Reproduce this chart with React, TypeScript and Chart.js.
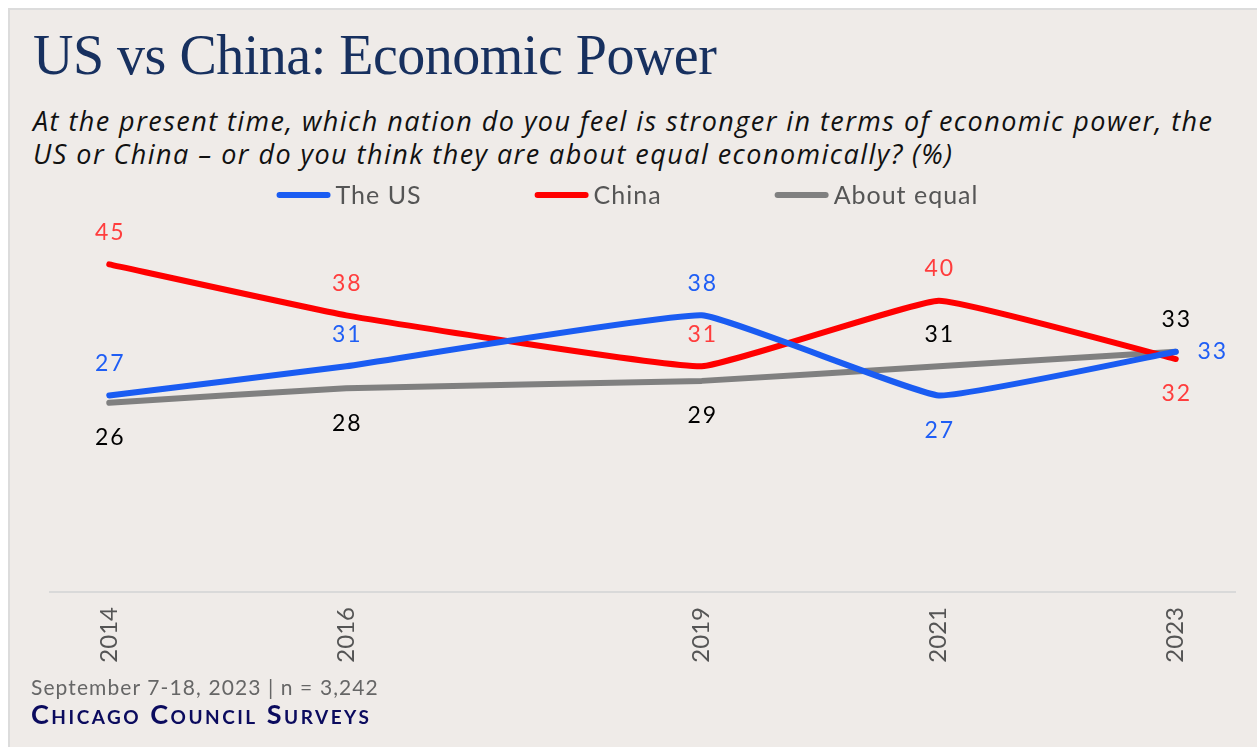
import { useEffect, useRef } from "react";
import { Chart, registerables } from "chart.js";

Chart.register(...registerables);

const years = [2014, 2016, 2019, 2021, 2023];
const usValues = [27, 31, 38, 27, 33];
const chinaValues = [45, 38, 31, 40, 32];
const equalValues = [26, 28, 29, 31, 33];
const seriesNames = ["The US", "China", "About equal"];
const usLabelSides = ["above", "above", "above", "below", "right"];
const chinaLabelSides = ["above", "above", "above", "above", "below"];
const equalLabelSides = ["below", "below", "below", "above", "above"];

const TITLE = "US vs China: Economic Power";
const SUBTITLE_1 =
  "At the present time, which nation do you feel is stronger in terms of economic power, the";
const SUBTITLE_2 = "US or China \u2013 or do you think they are about equal economically? (%)";
const SOURCE = "September 7-18, 2023 | n = 3,242";
const BRAND = "Chicago Council Surveys";

const SANS = "Lato, 'Noto Sans', sans-serif";

const labelSides = [usLabelSides, chinaLabelSides, equalLabelSides];
const labelColors = ["#1f5ef5", "#ff3d3d", "#000000"];

const dataLabelPlugin = {
  id: "dataLabels",
  afterDatasetsDraw(chart: any) {
    const ctx = chart.ctx;
    ctx.save();
    ctx.font = `23px ${SANS}`;
    (ctx as any).letterSpacing = "2px";
    ctx.textBaseline = "middle";
    chart.data.datasets.forEach((ds: any, di: number) => {
      const meta = chart.getDatasetMeta(di);
      meta.data.forEach((pt: any, i: number) => {
        const side = labelSides[di][i];
        const v = ds.data[i].y;
        let x = pt.x + 1;
        let y = pt.y;
        ctx.textAlign = "center";
        if (side === "above") y -= 32;
        else if (side === "below") y += 35;
        else {
          x += 36;
        }
        ctx.fillStyle = labelColors[di];
        ctx.fillText(String(v), x, y);
      });
    });
    ctx.restore();
  },
};

const legendPlugin = {
  id: "customLegend",
  afterDraw(chart: any) {
    const ctx = chart.ctx;
    ctx.save();
    ctx.font = `25px ${SANS}`;
    (ctx as any).letterSpacing = "1px";
    ctx.textBaseline = "middle";
    const lineW = 54;
    const textGap = 5;
    const itemGap = 113;
    const widths = chart.data.datasets.map(
      (ds: any) => lineW + textGap + ctx.measureText(ds.label).width
    );
    const total = widths.reduce((a: number, b: number) => a + b, 0) + itemGap * (widths.length - 1);
    let x = 619.5 - total / 2;
    const y = 25;
    chart.data.datasets.forEach((ds: any, i: number) => {
      ctx.strokeStyle = ds.borderColor;
      ctx.lineWidth = 6;
      ctx.lineCap = "round";
      ctx.beginPath();
      ctx.moveTo(x + 3, y);
      ctx.lineTo(x + lineW - 3, y);
      ctx.stroke();
      ctx.fillStyle = "#555555";
      ctx.textAlign = "left";
      ctx.fillText(ds.label, x + lineW + textGap, y + 1);
      x += widths[i] + itemGap;
    });
    ctx.restore();
  },
};

export default function App() {
  const canvasRef = useRef<HTMLCanvasElement | null>(null);

  useEffect(() => {
    if (!canvasRef.current) return;
    const mk = (vals: number[]) => years.map((x, i) => ({ x, y: vals[i] }));
    const chart = new Chart(canvasRef.current, {
      type: "line",
      data: {
        datasets: [
          { label: seriesNames[0], data: mk(usValues), borderColor: "#1a5cf2" },
          { label: seriesNames[1], data: mk(chinaValues), borderColor: "#ff0000" },
          { label: seriesNames[2], data: mk(equalValues), borderColor: "#808080" },
        ].map((d) => ({
          ...d,
          borderWidth: 6,
          pointRadius: 0,
          pointHoverRadius: 0,
          tension: 0.1,
          borderCapStyle: "round" as const,
          borderJoinStyle: "round" as const,
          fill: false,
        })),
      },
      options: {
        responsive: false,
        animation: false,
        layout: { padding: { top: 58, left: 42, right: 22, bottom: 18 } },
        plugins: {
          legend: { display: false },
          tooltip: { enabled: false },
          title: { display: false },
        },
        scales: {
          x: {
            type: "linear",
            min: 2013.5,
            max: 2023.5,
            afterBuildTicks: (scale: any) => {
              scale.ticks = years.map((v) => ({ value: v }));
            },
            afterFit: (scale: any) => {
              scale.height = 70;
            },
            ticks: {
              autoSkip: false,
              minRotation: 90,
              maxRotation: 90,
              padding: 15,
              color: "#555555",
              font: { family: SANS, size: 24 },
              callback: (v: any) => String(v),
            },
            grid: { display: false, drawTicks: false },
            border: { display: true, color: "#d9d9d9", width: 2 },
          },
          y: {
            display: false,
            min: 0,
            max: 50,
          },
        },
      },
      plugins: [dataLabelPlugin, legendPlugin],
    });
    return () => chart.destroy();
  }, []);

  return (
    <div
      style={{
        position: "fixed",
        left: 8,
        top: 8,
        right: 0,
        bottom: 0,
        background: "#efebe8",
        borderTop: "2px solid #dcdcdc",
        borderLeft: "2px solid #dcdcdc",
        overflow: "hidden",
        boxSizing: "border-box",
      }}
    >
      <div
        style={{
          position: "absolute",
          left: 23,
          top: 17,
          fontFamily: "'Liberation Serif', serif",
          fontSize: 56,
          lineHeight: 1,
          color: "#17305f",
          whiteSpace: "nowrap",
          letterSpacing: -0.5,
        }}
      >
        {TITLE}
      </div>
      <div
        style={{
          position: "absolute",
          left: 23,
          top: 94,
          fontFamily: "'Open Sans', sans-serif",
          fontStyle: "italic",
          fontSize: 27,
          letterSpacing: 1.45,
          lineHeight: "33px",
          color: "#111111",
          whiteSpace: "nowrap",
        }}
      >
        <div>{SUBTITLE_1}</div>
        <div>{SUBTITLE_2}</div>
      </div>
      <canvas
        ref={canvasRef}
        width={1249}
        height={510}
        style={{ position: "absolute", left: -2, top: 160, width: 1249, height: 510 }}
      />
      <div
        style={{
          position: "absolute",
          left: 21,
          top: 666,
          fontFamily: SANS,
          fontSize: 21,
          letterSpacing: 1.1,
          lineHeight: 1,
          color: "#666666",
          whiteSpace: "nowrap",
        }}
      >
        {SOURCE}
      </div>
      <div
        style={{
          position: "absolute",
          left: 21,
          top: 690,
          fontFamily: SANS,
          fontSize: 27,
          fontVariant: "small-caps",
          fontWeight: 700,
          letterSpacing: 2.5,
          lineHeight: 1,
          color: "#0b0b5e",
          whiteSpace: "nowrap",
        }}
      >
        {BRAND}
      </div>
    </div>
  );
}
